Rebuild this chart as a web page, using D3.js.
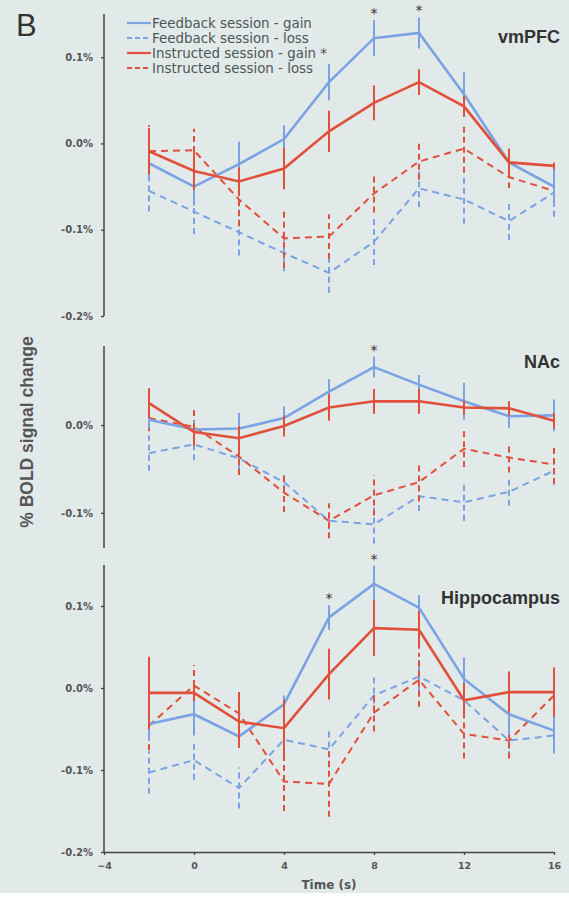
<html>

<head>
    <meta charset="utf-8">
    <title>BOLD time courses</title>

    <style>
        body {
            padding: 0;
            margin: 0;
            background: #ffffff;
        }

        .tick-label {
            font-family: "DejaVu Sans", Verdana, sans-serif;
            font-weight: bold;
            font-size: 10px;
            fill: #555;
        }

        .x-tick {
            font-size: 9.5px;
        }

        .region {
            font-family: "Liberation Sans", Arial, sans-serif;
            font-weight: bold;
            font-size: 18px;
            fill: #333;
        }

        .legend text {
            font-family: "DejaVu Sans", Verdana, sans-serif;
            font-size: 13.4px;
            fill: #4c5656;
        }

        .star {
            font-family: "DejaVu Sans", sans-serif;
            font-size: 14px;
            fill: #333;
        }
    </style>
</head>

<body>

    <div id="chart"></div>

    <script src="https://d3js.org/d3.v7.min.js"></script>
    <script>
        // time points (s)
        var time = [-2, 0, 2, 4, 6, 8, 10, 12, 14, 16];
        var xTicks = [-4, 0, 4, 8, 12, 16];

        var seriesNames = ["Feedback session - gain", "Feedback session - loss",
            "Instructed session - gain", "Instructed session - loss"];

        // vmPFC (% signal change, error bar half-length)
        var vmpfcFbGain = [-0.023, -0.050, -0.024, 0.005, 0.071, 0.122, 0.128, 0.057, -0.022, -0.050];
        var vmpfcFbGainErr = [0.018, 0.022, 0.026, 0.016, 0.021, 0.021, 0.018, 0.026, 0.015, 0.023];
        var vmpfcFbLoss = [-0.055, -0.079, -0.103, -0.127, -0.150, -0.114, -0.052, -0.065, -0.090, -0.057];
        var vmpfcFbLossErr = [0.024, 0.026, 0.027, 0.021, 0.023, 0.027, 0.022, 0.028, 0.022, 0.028];
        var vmpfcInGain = [-0.009, -0.032, -0.044, -0.029, 0.014, 0.047, 0.071, 0.043, -0.022, -0.026];
        var vmpfcInGainErr = [0.027, 0.022, 0.016, 0.024, 0.024, 0.020, 0.015, 0.012, 0.016, 0.004];
        var vmpfcInLoss = [-0.009, -0.008, -0.065, -0.110, -0.108, -0.058, -0.021, -0.006, -0.039, -0.055];
        var vmpfcInLossErr = [0.030, 0.025, 0.031, 0.034, 0.026, 0.022, 0.021, 0.028, 0.013, 0.004];
        var vmpfcStars = [8, 10];

        // NAc
        var naccFbGain = [0.006, -0.005, -0.004, 0.008, 0.038, 0.066, 0.046, 0.027, 0.010, 0.011];
        var naccFbGainErr = [0.010, 0.010, 0.018, 0.013, 0.014, 0.012, 0.011, 0.021, 0.013, 0.018];
        var naccFbLoss = [-0.032, -0.022, -0.038, -0.065, -0.109, -0.113, -0.081, -0.088, -0.076, -0.052];
        var naccFbLossErr = [0.020, 0.018, 0.014, 0.010, 0.010, 0.022, 0.017, 0.021, 0.016, 0.016];
        var naccInGain = [0.025, -0.008, -0.015, -0.001, 0.020, 0.027, 0.027, 0.020, 0.019, 0.005];
        var naccInGainErr = [0.017, 0.010, 0.014, 0.012, 0.015, 0.014, 0.014, 0.008, 0.008, 0.009];
        var naccInLoss = [0.008, -0.002, -0.036, -0.077, -0.109, -0.080, -0.065, -0.027, -0.037, -0.045];
        var naccInLossErr = [0.015, 0.022, 0.021, 0.022, 0.020, 0.023, 0.022, 0.021, 0.017, 0.022];
        var naccStars = [8];

        // Hippocampus
        var hippFbGain = [-0.044, -0.032, -0.059, -0.020, 0.086, 0.127, 0.098, 0.011, -0.032, -0.052];
        var hippFbGainErr = [0.020, 0.026, 0.014, 0.011, 0.015, 0.022, 0.015, 0.026, 0.025, 0.026];
        var hippFbLoss = [-0.103, -0.088, -0.122, -0.063, -0.075, -0.009, 0.014, -0.015, -0.064, -0.058];
        var hippFbLossErr = [0.026, 0.024, 0.025, 0.022, 0.022, 0.022, 0.020, 0.020, 0.020, 0.022];
        var hippInGain = [-0.006, -0.006, -0.041, -0.049, 0.017, 0.073, 0.071, -0.015, -0.005, -0.005];
        var hippInGainErr = [0.044, 0.010, 0.032, 0.035, 0.031, 0.034, 0.023, 0.021, 0.025, 0.030];
        var hippInLoss = [-0.046, 0.003, -0.031, -0.114, -0.117, -0.030, 0.010, -0.056, -0.064, -0.009];
        var hippInLossErr = [0.030, 0.025, 0.030, 0.036, 0.040, 0.023, 0.033, 0.030, 0.022, 0.022];
        var hippStars = [6, 8];

        var blue = "#7ba3e4",
            red = "#e0503a",
            axisColor = "#444";

        var width = 569,
            height = 899;

        var svg = d3.select("#chart")
            .append("svg")
            .attr("width", width)
            .attr("height", height);

        svg.append("rect")
            .attr("width", width)
            .attr("height", 893)
            .attr("fill", "#e2e9e9");

        var x = d3.scaleLinear()
            .domain([-4, 16])
            .range([104, 554]);

        // layout of the three stacked panels
        var panels = [{
                name: "vmPFC",
                domain: [-0.2, 0.15],
                range: [316, 14],
                ticks: [0.1, 0, -0.1, -0.2],
                labelY: 43,
                stars: vmpfcStars,
                series: [
                    [vmpfcFbLoss, vmpfcFbLossErr, blue, true],
                    [vmpfcInLoss, vmpfcInLossErr, red, true],
                    [vmpfcFbGain, vmpfcFbGainErr, blue, false],
                    [vmpfcInGain, vmpfcInGainErr, red, false]
                ]
            },
            {
                name: "NAc",
                domain: [-0.14, 0.09],
                range: [548, 346],
                ticks: [0, -0.1],
                labelY: 368,
                stars: naccStars,
                series: [
                    [naccFbLoss, naccFbLossErr, blue, true],
                    [naccInLoss, naccInLossErr, red, true],
                    [naccFbGain, naccFbGainErr, blue, false],
                    [naccInGain, naccInGainErr, red, false]
                ]
            },
            {
                name: "Hippocampus",
                domain: [-0.2, 0.15],
                range: [852, 565],
                ticks: [0.1, 0, -0.1, -0.2],
                labelY: 604,
                stars: hippStars,
                series: [
                    [hippFbLoss, hippFbLossErr, blue, true],
                    [hippInLoss, hippInLossErr, red, true],
                    [hippFbGain, hippFbGainErr, blue, false],
                    [hippInGain, hippInGainErr, red, false]
                ]
            }
        ];

        var fmt = function (d) {
            return d.toFixed(1) + "%";
        };

        panels.forEach(function (p, pi) {

            var y = d3.scaleLinear()
                .domain(p.domain)
                .range(p.range);

            var g = svg.append("g");

            // y axis
            var yAxis = g.append("g")
                .attr("transform", "translate(" + x(-4) + ",0)")
                .call(d3.axisLeft(y).tickValues(p.ticks).tickSize(3).tickFormat(fmt));
            yAxis.select(".domain")
                .attr("d", "M0," + p.range[1] + "V" + p.range[0])
                .attr("stroke", axisColor)
                .attr("stroke-width", 1.5);
            yAxis.selectAll(".tick line").attr("stroke", axisColor).attr("stroke-width", 1.3);
            yAxis.selectAll(".tick text")
                .attr("class", "tick-label")
                .attr("x", -11)
                .attr("font-family", null)
                .attr("font-size", null);

            // series lines + error bars
            p.series.forEach(function (s) {
                var vals = s[0],
                    errs = s[1],
                    color = s[2],
                    dashed = s[3];
                var pts = time.map(function (t, i) {
                    return [t, vals[i], errs[i]];
                });

                var line = d3.line()
                    .x(function (d) { return x(d[0]); })
                    .y(function (d) { return y(d[1]); });

                g.append("path")
                    .datum(pts)
                    .attr("d", line)
                    .attr("fill", "none")
                    .attr("stroke", color)
                    .attr("stroke-width", dashed ? 2 : 2.6)
                    .attr("stroke-dasharray", dashed ? "7,5" : null);

                g.selectAll(null)
                    .data(pts)
                    .enter()
                    .append("line")
                    .attr("x1", function (d) { return x(d[0]); })
                    .attr("x2", function (d) { return x(d[0]); })
                    .attr("y1", function (d) { return y(d[1] - d[2]); })
                    .attr("y2", function (d) { return y(d[1] + d[2]); })
                    .attr("stroke", color)
                    .attr("stroke-width", 2)
                    .attr("stroke-dasharray", dashed ? "6,4" : null);
            });

            // significance stars above the highest error bar
            p.stars.forEach(function (t) {
                var i = time.indexOf(t);
                var top = d3.max(p.series, function (s) { return s[0][i] + s[1][i]; });
                g.append("text")
                    .attr("class", "star")
                    .attr("x", x(t))
                    .attr("y", Math.max(y(top) - 2, 14))
                    .attr("text-anchor", "middle")
                    .text("*");
            });

            g.append("text")
                .attr("class", "region")
                .attr("x", 560)
                .attr("y", p.labelY)
                .attr("text-anchor", "end")
                .text(p.name);

            // x axis only on the bottom panel
            if (pi === panels.length - 1) {
                var xAxis = g.append("g")
                    .attr("transform", "translate(0," + p.range[0] + ")")
                    .call(d3.axisBottom(x).tickValues(xTicks).tickSize(3).tickSizeOuter(0));
                xAxis.select(".domain").attr("stroke", axisColor).attr("stroke-width", 1.5);
                xAxis.selectAll(".tick line").attr("stroke", axisColor).attr("stroke-width", 1.3);
                xAxis.selectAll(".tick text")
                    .attr("class", "tick-label x-tick")
                    .attr("y", 10)
                    .attr("font-family", null)
                    .attr("font-size", null);

                g.append("text")
                    .attr("x", (x(-4) + x(16)) / 2)
                    .attr("y", 889)
                    .attr("text-anchor", "middle")
                    .style("font-family", "DejaVu Sans, Verdana, sans-serif")
                    .style("font-weight", "bold")
                    .style("font-size", "12px")
                    .style("fill", "#555")
                    .text("Time (s)");
            }
        });

        // y axis title
        svg.append("text")
            .attr("transform", "translate(33,432) rotate(-90)")
            .attr("text-anchor", "middle")
            .style("font-family", "Liberation Sans, Arial, sans-serif")
            .style("font-weight", "bold")
            .style("font-size", "17.5px")
            .style("fill", "#555")
            .text("% BOLD signal change");

        // panel letter
        svg.append("text")
            .attr("x", 16)
            .attr("y", 36)
            .style("font-family", "Liberation Sans, Arial, sans-serif")
            .style("font-size", "31px")
            .style("fill", "#333")
            .text("B");

        // legend
        var legend = svg.append("g").attr("class", "legend");
        var legendColors = [blue, blue, red, red],
            legendDash = [false, true, false, true];

        seriesNames.forEach(function (name, i) {
            var ly = 23 + i * 15;
            legend.append("line")
                .attr("x1", 127)
                .attr("x2", 151)
                .attr("y1", ly)
                .attr("y2", ly)
                .attr("stroke", legendColors[i])
                .attr("stroke-width", 2.2)
                .attr("stroke-dasharray", legendDash[i] ? "5,3" : null);
            legend.append("text")
                .attr("x", 152)
                .attr("y", ly + 4.5)
                .text(name + (i === 2 ? " *" : ""));
        });
    </script>
</body>

</html>
